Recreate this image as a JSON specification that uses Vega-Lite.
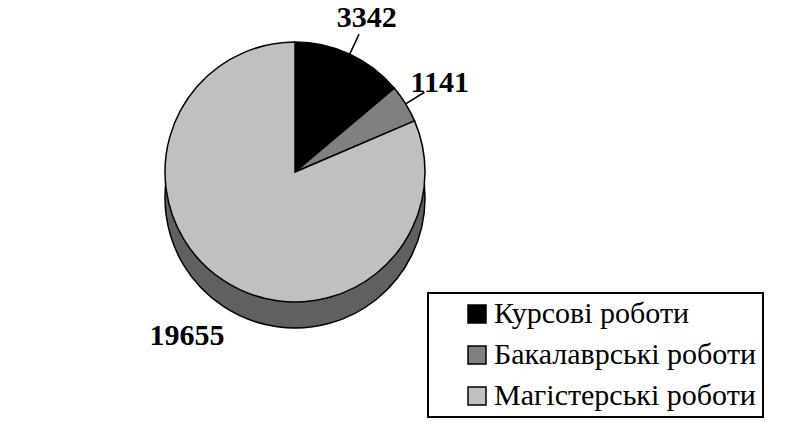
{
  "$schema": "https://vega.github.io/schema/vega-lite/v6.json",
  "width": 590,
  "height": 344,
  "padding": 0,
  "autosize": {"type": "pad"},
  "background": "white",
  "config": {
    "view": {"stroke": null},
    "font": "Liberation Serif",
    "legend": {"labelFont": "Liberation Serif", "labelFontSize": 30}
  },
  "data": {
    "values": [
      {"category": "Курсові роботи", "value": 3342, "n": 1},
      {"category": "Бакалаврські роботи", "value": 1141, "n": 2},
      {"category": "Магістерські роботи", "value": 19655, "n": 3}
    ]
  },
  "transform": [
    {"window": [{"op": "sum", "field": "value", "as": "cum"}], "sort": [{"field": "n"}], "frame": [null, 0]},
    {"calculate": "datum.cum - datum.value", "as": "start"},
    {"calculate": "datum.cum - datum.value / 2", "as": "mid"}
  ],
  "layer": [
    {
      "mark": {"type": "arc", "radius": 130, "fill": "#606060", "stroke": "black", "strokeWidth": 1.5, "yOffset": 26},
      "encoding": {
        "theta": {"field": "cum", "type": "quantitative", "stack": null},
        "theta2": {"field": "start"}
      }
    },
    {
      "mark": {"type": "arc", "radius": 130, "stroke": "black", "strokeWidth": 1.5},
      "encoding": {
        "theta": {"field": "cum", "type": "quantitative", "stack": null},
        "theta2": {"field": "start"},
        "color": {
          "field": "category",
          "type": "nominal",
          "scale": {
            "domain": ["Курсові роботи", "Бакалаврські роботи", "Магістерські роботи"],
            "range": ["#000000", "#808080", "#c0c0c0"]
          },
          "legend": {
            "orient": "none",
            "legendX": 428,
            "legendY": 293,
            "title": null,
            "strokeColor": "black",
            "fillColor": "white",
            "padding": 6,
            "symbolType": "square",
            "symbolSize": 324,
            "symbolStrokeColor": "black",
            "symbolStrokeWidth": 1.5,
            "symbolOffset": 28,
            "labelFont": "Liberation Serif",
            "labelFontSize": 30,
            "labelColor": "black",
            "labelOffset": 2,
            "labelLimit": 400,
            "rowPadding": 11,
            "encode": {"legend": {"update": {"strokeWidth": {"value": 2}}}}
          }
        }
      }
    },
    {
      "transform": [{"filter": "datum.n < 3"}],
      "mark": {"type": "arc", "radius": 130, "radius2": 152, "stroke": "black", "strokeWidth": 1.5, "fill": null},
      "encoding": {
        "theta": {"field": "mid", "type": "quantitative", "stack": null},
        "theta2": {"field": "mid"}
      }
    },
    {
      "transform": [{"filter": "datum.n < 3"}],
      "mark": {"type": "text", "radius": 170, "font": "Liberation Serif", "fontWeight": "bold", "fontSize": 30, "color": "black"},
      "encoding": {
        "theta": {"field": "mid", "type": "quantitative", "stack": null},
        "text": {"field": "value", "type": "nominal"}
      }
    },
    {
      "transform": [{"filter": "datum.n == 3"}],
      "mark": {"type": "text", "radius": 196, "font": "Liberation Serif", "fontWeight": "bold", "fontSize": 30, "color": "black"},
      "encoding": {
        "theta": {"field": "mid", "type": "quantitative", "stack": null},
        "text": {"field": "value", "type": "nominal"}
      }
    }
  ]
}
